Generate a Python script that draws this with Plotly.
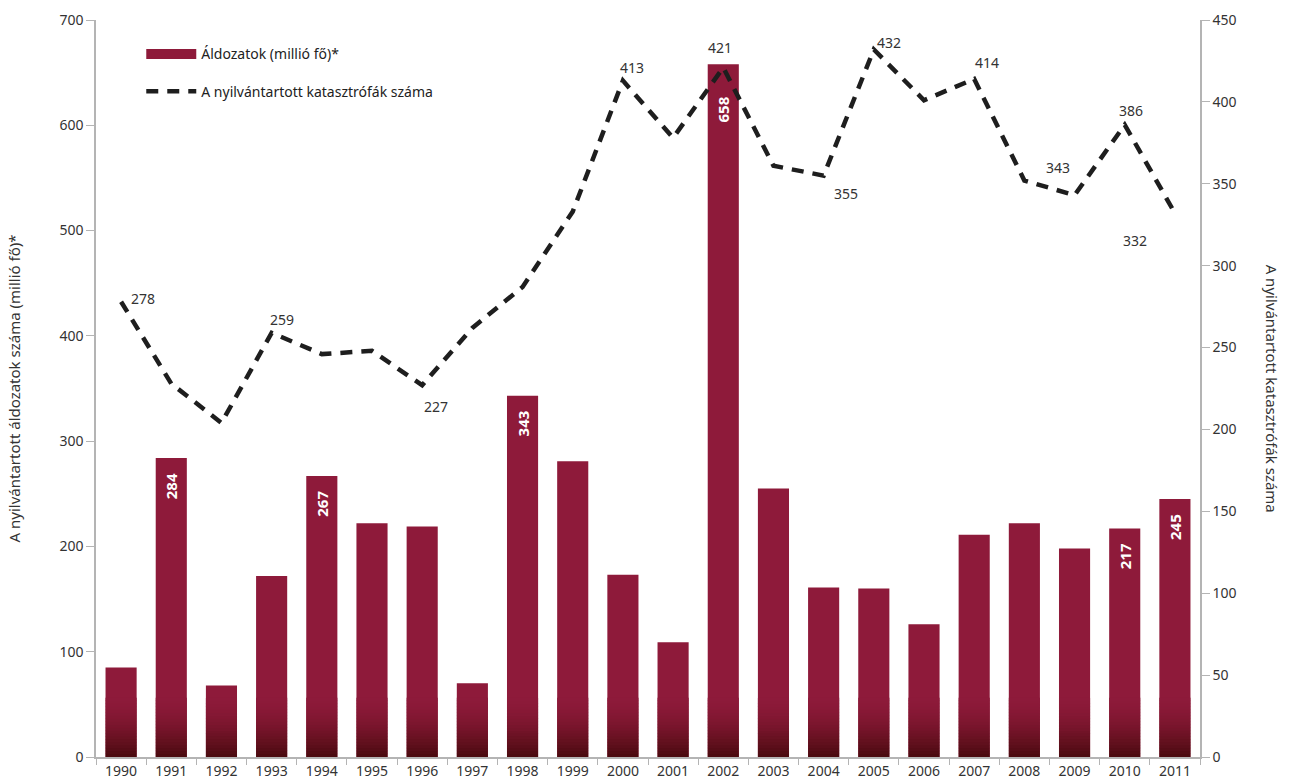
import plotly.graph_objects as go

years = [str(y) for y in range(1990, 2012)]
victims = [85, 284, 68, 172, 267, 222, 219, 70, 343, 281, 173, 109, 658, 255, 161, 160, 126, 211, 222, 198, 217, 245]
disasters = [278, 228, 204, 259, 246, 248, 227, 262, 287, 333, 413, 378, 421, 361, 355, 432, 401, 414, 352, 343, 386, 332]
victim_label_years = ["1991", "1994", "1998", "2002", "2010", "2011"]
disaster_label_years = ["1990", "1993", "1996", "2000", "2002", "2004", "2005", "2007", "2009", "2010", "2011"]

bar_name = "Áldozatok (millió fő)*"
line_name = "A nyilvántartott katasztrófák száma"
left_title = "A nyilvántartott áldozatok száma (millió fő)*"
right_title = "A nyilvántartott katasztrófák száma"

# label offsets (pixels) - styling only
victim_label_shift = {"2002": -45}
disaster_label_shift = {
    "1990": (22, 3), "1993": (10, 13), "1996": (14, -21), "2000": (9, 13), "2002": (-3, 20),
    "2004": (22, -18), "2005": (15, 7), "2007": (13, 16), "2009": (-17, 28), "2010": (6, 14),
    "2011": (-40, -27),
}

main_color = "#8e1a3a"
font = "Noto Sans, Open Sans, sans-serif"
axis_grey = "#b4b4b4"

fig = go.Figure()

fig.add_trace(go.Bar(
    x=years, y=victims, name=bar_name, marker=dict(color=main_color, line=dict(width=0)),
    width=0.62, showlegend=False, hoverinfo="x+y",
))

# darker gradient near the bar base (drawn as stacked overlay slices)
steps = 20
step_h = 2.8
c0 = (0x8e, 0x1a, 0x3a)
c1 = (0x4c, 0x0b, 0x10)
for i in range(steps):
    t = (1 - i / steps) ** 1.6
    col = "rgb(%d,%d,%d)" % tuple(round(c0[k] + (c1[k] - c0[k]) * t) for k in range(3))
    fig.add_trace(go.Bar(
        x=years, y=[min(step_h + 0.3, max(v - i * step_h, 0)) for v in victims],
        base=[i * step_h] * len(years), width=0.62,
        marker=dict(color=col, line=dict(width=0)), showlegend=False, hoverinfo="skip",
    ))

# legend swatch for bars
fig.add_trace(go.Scatter(
    x=[None], y=[None], mode="lines", name=bar_name, legendgroup="a",
    line=dict(color=main_color, width=15),
))

fig.add_trace(go.Scatter(
    x=years, y=disasters, name=line_name, yaxis="y2", mode="lines",
    line=dict(color="#1e1e1e", width=4.5, dash="12px,9px"), legendgroup="b",
))

annotations = []
for idx, (yr, v) in enumerate(zip(years, victims)):
    if yr in victim_label_years:
        annotations.append(dict(
            x=idx, y=v, xref="x", yref="y", text="<b>%d</b>" % v, showarrow=False,
            textangle=-90, xanchor="center", yanchor="middle",
            yshift=victim_label_shift.get(yr, -28),
            font=dict(color="white", size=15, family="Open Sans"),
        ))
for idx, (yr, v) in enumerate(zip(years, disasters)):
    if yr in disaster_label_years:
        dx, dy = disaster_label_shift[yr]
        annotations.append(dict(
            x=idx, y=v, xref="x", yref="y2", text=str(v), showarrow=False,
            xanchor="center", yanchor="middle", xshift=dx, yshift=dy,
            font=dict(color="#333333", size=14, family=font),
        ))
annotations.append(dict(
    x=1.066, y=0.5, xref="paper", yref="paper", text=right_title, showarrow=False,
    textangle=90, xanchor="center", yanchor="middle",
    font=dict(color="#333333", size=15, family=font),
))

fig.update_layout(
    width=1289, height=784,
    margin=dict(l=96, r=89, t=20, b=27, autoexpand=False),
    paper_bgcolor="white", plot_bgcolor="white",
    barmode="overlay",
    font=dict(family=font, size=14, color="#333333"),
    showlegend=True,
    annotations=annotations,
    legend=dict(x=0.041, y=0.975, xanchor="left", yanchor="top", bgcolor="rgba(0,0,0,0)",
                font=dict(size=14, color="#222222"), tracegroupgap=16, traceorder="grouped",
                itemwidth=50),
    xaxis=dict(type="category", range=[-0.5, 21.5], showline=True, linecolor=axis_grey, linewidth=1.5,
               ticks="outside", tickson="boundaries", ticklen=6, tickcolor=axis_grey,
               showgrid=False, tickfont=dict(size=14), automargin=False),
    yaxis=dict(range=[0, 700], dtick=100, showline=True, linecolor=axis_grey, linewidth=1.5,
               ticks="outside", ticklen=8, tickcolor=axis_grey, showgrid=False, zeroline=False,
               tickfont=dict(size=14), automargin=False,
               title=dict(text=left_title, font=dict(size=15), standoff=35)),
    yaxis2=dict(range=[0, 450], dtick=50, overlaying="y", side="right", showline=True,
                linecolor=axis_grey, linewidth=1.5, ticks="outside", ticklen=8, tickcolor=axis_grey,
                showgrid=False, zeroline=False, tickfont=dict(size=14), automargin=False),
)

fig.write_html("out.html", config={"displayModeBar": False},
               post_script="document.body.style.margin='0';document.body.style.overflow='hidden';")
